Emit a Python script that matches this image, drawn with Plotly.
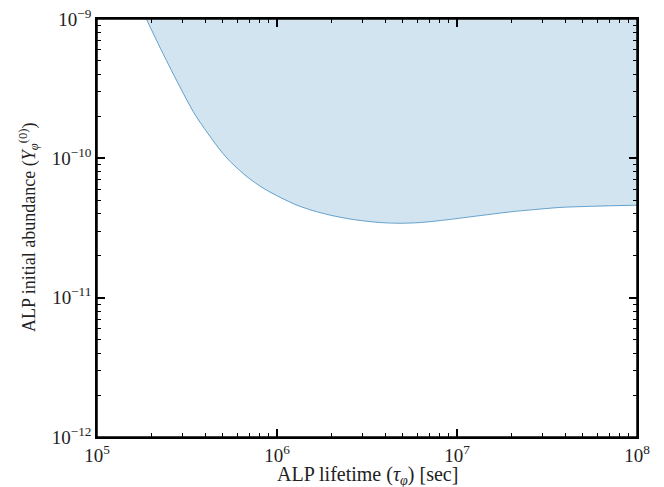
import numpy as np
import plotly.graph_objects as go

# Boundary curve (lower edge of excluded region)
tau = [1.88e5, 2.25e5, 2.79e5, 3.52e5, 4.85e5, 5.51e5, 6.82e5, 8.43e5, 1.043e6, 1.291e6,
       1.596e6, 1.976e6, 2.446e6, 2.90e6, 3.745e6, 4.83e6, 6.24e6, 8.78e6, 1.344e7,
       2.056e7, 2.89e7, 3.73e7, 5.72e7, 1.0e8]
Y0 = [1.0e-9, 6.16e-10, 3.55e-10, 2.04e-10, 1.14e-10, 9.45e-11, 7.37e-11, 6.08e-11, 5.24e-11, 4.61e-11,
      4.20e-11, 3.91e-11, 3.70e-11, 3.58e-11, 3.46e-11, 3.42e-11, 3.46e-11, 3.62e-11, 3.88e-11,
      4.15e-11, 4.32e-11, 4.44e-11, 4.53e-11, 4.61e-11]

x_range = [1e5, 1e8]
y_range = [1e-12, 1e-9]
x_major = [1e5, 1e6, 1e7, 1e8]
y_major = [1e-12, 1e-11, 1e-10, 1e-9]
x_minor = [m * d for d in x_major[:-1] for m in range(2, 10)]
y_minor = [m * d for d in y_major[:-1] for m in range(2, 10)]
y_top = [y_range[1]] * len(tau)

x_title = "ALP lifetime (<i>τ</i><sub><i>φ</i></sub>) [sec]"
y_title = "ALP initial abundance (<i>Y</i><sub><i>φ</i></sub><sup>(0)</sup>)"

font_family = "Liberation Serif, DejaVu Serif, serif"
xr = [np.log10(x_range[0]), np.log10(x_range[1])]
yr = [np.log10(y_range[0]), np.log10(y_range[1])]

fig = go.Figure()
fig.add_trace(go.Scatter(x=tau, y=y_top, mode="lines", line=dict(width=0),
                         hoverinfo="skip", showlegend=False))
fig.add_trace(go.Scatter(x=tau, y=Y0, mode="lines", fill="tonexty", line_shape="spline",
                         fillcolor="rgba(31,119,180,0.2)",
                         line=dict(color="rgba(31,119,180,0.65)", width=1, smoothing=0.8),
                         showlegend=False))

def tick_label(v):
    e = int(round(np.log10(v)))
    s = str(e).replace("-", "−")
    return f"10<sup>{s}</sup>"

major_common = dict(
    type="log", showgrid=False, zeroline=False, automargin=False,
    showline=True, linecolor="#000000", linewidth=1.5, mirror="allticks",
    ticks="inside", ticklen=8, tickwidth=1.5, tickcolor="#000000",
    tickfont=dict(family=font_family, size=19, color="#222"),
    tickmode="array",
)
minor_common = dict(ticks="inside", ticklen=4, tickwidth=1.4, tickcolor="#000000",
                    showgrid=False, tickmode="array")

fig.update_layout(
    width=664, height=487,
    margin=dict(l=97, r=27, t=19, b=50),
    paper_bgcolor="white", plot_bgcolor="white",
    xaxis=dict(range=xr, tickvals=x_major, ticktext=[tick_label(v) for v in x_major],
               minor=dict(tickvals=x_minor, **minor_common), **major_common),
    yaxis=dict(range=yr, tickvals=y_major, ticktext=[tick_label(v) for v in y_major],
               minor=dict(tickvals=y_minor, **minor_common), **major_common),
    shapes=[dict(type="rect", xref="paper", yref="paper", x0=0, y0=0, x1=1, y1=1,
                 line=dict(color="black", width=1.5), layer="above")],
    annotations=[
        dict(text=x_title, xref="paper", yref="paper", x=0.5, y=0, yshift=-38,
             xanchor="center", yanchor="middle", showarrow=False,
             font=dict(family=font_family, size=20, color="#222")),
        dict(text=y_title, xref="paper", yref="paper", x=0, y=0.5, xshift=-69,
             xanchor="center", yanchor="middle", textangle=-90, showarrow=False,
             font=dict(family=font_family, size=18, color="#222")),
    ],
)

fig.write_html("out.html", config={"displayModeBar": False},
               post_script="document.body.style.margin='0px';")
